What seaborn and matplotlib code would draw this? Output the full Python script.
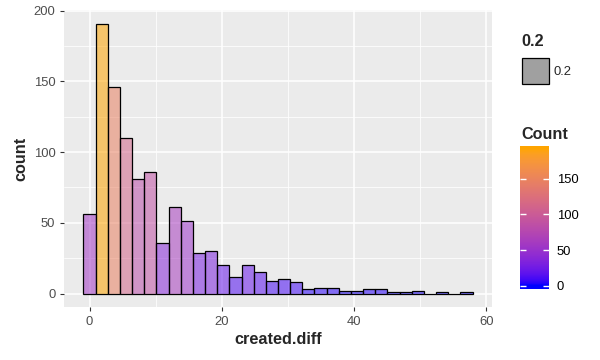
import numpy as np
import pandas as pd
import matplotlib
matplotlib.use("Agg")
import matplotlib.pyplot as plt
from matplotlib.colors import ListedColormap
from matplotlib.patches import Rectangle
import seaborn as sns

# histogram counts (32 bins, 0 .. 57)
counts = [56, 191, 146, 110, 81, 86, 36, 61, 51, 29, 30, 20, 12, 20, 15, 9,
          10, 8, 3, 4, 4, 2, 2, 3, 3, 1, 1, 2, 0, 1, 0, 1]
x_min, x_max = 0, 57
x_ticks = [0, 20, 40, 60]
y_ticks = [0, 50, 100, 150, 200]
bar_ticks = [0, 50, 100, 150]
low_col, high_col = "#0000FF", "#FFA500"
alpha_value = 0.55

n_bins = len(counts)
width = (x_max - x_min) / (n_bins - 1)
centers = np.linspace(x_min, x_max, n_bins)
edges = np.append(centers - width / 2, centers[-1] + width / 2)
df = pd.DataFrame({"created.diff": centers, "n": counts})


# ggplot style gradient: interpolate in Lab space
M = np.array([[0.4124, 0.3576, 0.1805], [0.2126, 0.7152, 0.0722], [0.0193, 0.1192, 0.9505]])
WHITE = np.array([0.95047, 1.0, 1.08883])


def to_lab(hexcol):
    c = np.array(matplotlib.colors.to_rgb(hexcol))
    lin = np.where(c <= 0.04045, c / 12.92, ((c + 0.055) / 1.055) ** 2.4)
    xyz = M @ lin / WHITE
    f = np.where(xyz > 0.008856, np.cbrt(xyz), 7.787 * xyz + 16 / 116)
    return np.array([116 * f[1] - 16, 500 * (f[0] - f[1]), 200 * (f[1] - f[2])])


def from_lab(lab):
    fy = (lab[0] + 16) / 116
    f = np.array([fy + lab[1] / 500, fy, fy - lab[2] / 200])
    xyz = np.where(f ** 3 > 0.008856, f ** 3, (f - 16 / 116) / 7.787) * WHITE
    lin = np.clip(np.linalg.inv(M) @ xyz, 0, 1)
    return np.clip(np.where(lin <= 0.0031308, 12.92 * lin, 1.055 * lin ** (1 / 2.4) - 0.055), 0, 1)


lab_lo, lab_hi = to_lab(low_col), to_lab(high_col)
cmap = ListedColormap([from_lab(lab_lo + t * (lab_hi - lab_lo)) for t in np.linspace(0, 1, 256)])
vmax = max(counts)

sns.set_style("darkgrid", {"axes.facecolor": "#EBEBEB", "grid.color": "white"})
plt.rcParams["font.family"] = ["Liberation Sans", "DejaVu Sans"]

fig = plt.figure(figsize=(6, 3.6), dpi=100)
ax = fig.add_axes([64 / 600, 53 / 360, 428 / 600, 297 / 360])

sns.histplot(data=df, x="created.diff", weights="n", bins=edges.tolist(), ax=ax,
             edgecolor="black", linewidth=0.9)
for p in ax.patches:
    col = cmap(p.get_height() / vmax)
    p.set_facecolor((col[0], col[1], col[2], alpha_value))
    p.set_edgecolor("black")

pad_x = (edges[-1] - edges[0]) * 0.05
ax.set_xlim(edges[0] - pad_x, edges[-1] + pad_x)
ax.set_ylim(-vmax * 0.05, vmax * 1.05)
ax.set_xticks(x_ticks)
ax.set_yticks(y_ticks)
ax.set_xticks([10, 30, 50], minor=True)
ax.set_yticks([25, 75, 125, 175], minor=True)
ax.grid(which="major", color="white", linewidth=1.1)
ax.grid(which="minor", color="white", linewidth=0.55)
ax.set_axisbelow(True)
for s in ax.spines.values():
    s.set_visible(False)
ax.tick_params(which="major", length=3.2, width=0.8, color="#333333",
               labelcolor="#4D4D4D", labelsize=9.4, pad=3)
ax.tick_params(which="minor", length=0)
ax.tick_params(axis="both", which="major", bottom=True, left=True)
ax.set_xlabel("created.diff", fontsize=11.7, fontweight="bold", labelpad=3)
ax.set_ylabel("count", fontsize=11.7, fontweight="bold", labelpad=4)

# alpha legend
fig.text(521 / 600, 1 - 46 / 360, "0.2", fontsize=11.7, fontweight="bold", va="baseline")
fig.add_artist(Rectangle((521.5 / 600, 1 - 84.3 / 360), 27 / 600, 26 / 360,
                         transform=fig.transFigure, facecolor="#A0A0A0",
                         edgecolor="black", linewidth=0.9))
fig.text(553 / 600, 1 - 72 / 360, "0.2", fontsize=9.4, va="center")

# colour bar legend
fig.text(521 / 600, 1 - 139.5 / 360, "Count", fontsize=11.7, fontweight="bold", va="baseline")
cax = fig.add_axes([520 / 600, 1 - 289.3 / 360, 29 / 600, 143.3 / 360])
ext = vmax * 0.5 / 19
grad = np.clip(np.linspace(-ext, vmax + ext, 300), 0, vmax)
cax.imshow(grad[:, None], extent=[0, 1, -ext, vmax + ext], origin="lower",
           aspect="auto", cmap=cmap, vmin=0, vmax=vmax)
cax.set_xlim(0, 1)
cax.set_ylim(-ext, vmax + ext)
cax.hlines(bar_ticks, 0, 0.2, color="white", linewidth=1)
cax.hlines(bar_ticks, 0.8, 1, color="white", linewidth=1)
cax.set_xticks([])
cax.set_yticks(bar_ticks)
cax.yaxis.tick_right()
cax.tick_params(axis="y", length=0, pad=5.5, labelsize=9.4, labelcolor="black")
cax.grid(False)
for s in cax.spines.values():
    s.set_visible(False)

fig.savefig("out.png", dpi=100, facecolor="white")
